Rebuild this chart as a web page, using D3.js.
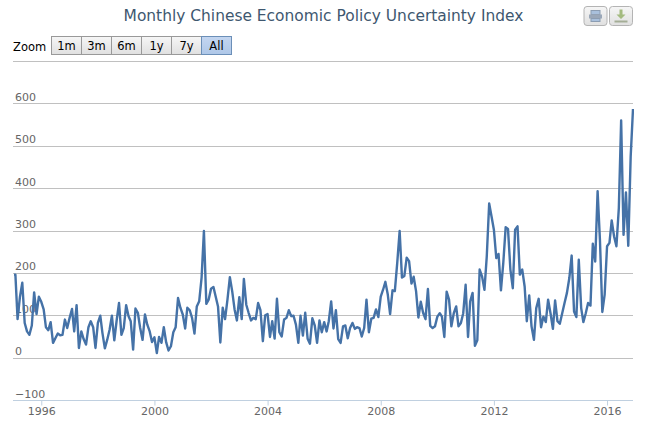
<!DOCTYPE html>
<html lang="en">
<head>
  <meta charset="UTF-8">
  <title>Monthly Chinese Economic Policy Uncertainty Index</title>
  <script src="https://d3js.org/d3.v7.min.js"></script>
  <style>
    body { margin: 0; background: #fff; font-family: "DejaVu Sans", Verdana, sans-serif; }
    text { font-family: "DejaVu Sans", Verdana, sans-serif; }
    .grid line { stroke: #c0c0c0; stroke-width: 1; shape-rendering: crispEdges; }
    .tick-label { font-size: 11px; fill: #666; }
  </style>
</head>
<body>
<div id="chart"></div>

<script>
  // One value per month from Jan 1995
  const firstMonth = new Date(1995, 0, 1);
  const uncertainty = [
    197, 197, 92, 145, 178, 83, 63, 55, 77, 155, 104, 145, 133, 115, 73, 66, 85, 36, 47, 58,
    54, 55, 91, 71, 95, 116, 63, 125, 24, 63, 45, 32, 73, 87, 73, 24, 83, 100, 59, 23,
    43, 67, 100, 42, 90, 130, 55, 71, 125, 99, 87, 20, 117, 107, 71, 43, 103, 79, 63, 38,
    49, 12, 50, 36, 73, 37, 18, 28, 61, 73, 142, 119, 103, 70, 119, 113, 95, 58, 122, 134,
    190, 300, 128, 138, 164, 168, 146, 122, 37, 119, 92, 138, 191, 158, 115, 89, 144, 92, 187, 126,
    107, 89, 95, 92, 130, 113, 40, 101, 104, 50, 87, 46, 140, 61, 51, 91, 95, 113, 99, 100,
    79, 36, 100, 53, 107, 46, 34, 94, 77, 36, 89, 61, 85, 63, 87, 134, 70, 113, 45, 36,
    75, 77, 47, 71, 83, 69, 73, 71, 51, 71, 138, 61, 93, 95, 115, 97, 145, 162, 180, 150,
    104, 160, 158, 225, 300, 190, 194, 237, 229, 176, 192, 158, 96, 133, 107, 92, 163, 76, 71, 75,
    98, 106, 98, 50, 157, 138, 75, 106, 122, 75, 83, 106, 173, 50, 134, 154, 29, 42, 209, 193,
    161, 240, 365, 335, 303, 236, 246, 160, 224, 309, 305, 209, 165, 303, 311, 197, 209, 169, 87, 148,
    75, 43, 118, 140, 73, 98, 85, 138, 106, 69, 136, 87, 81, 106, 130, 154, 189, 242, 110, 97,
    232, 118, 85, 106, 130, 124, 270, 228, 394, 280, 109, 150, 264, 272, 325, 287, 264, 354, 561, 291,
    391, 265, 476, 588
  ];
  const yTicks = [0, 100, 200, 300, 400, 500, 600, 700];
  const yLabels = [-100, 0, 100, 200, 300, 400, 500, 600];
  const xYears = [1996, 2000, 2004, 2008, 2012, 2016];
  const zoomButtons = ["1m", "3m", "6m", "1y", "7y", "All"];
  const titleText = "Monthly Chinese Economic Policy Uncertainty Index";

  const width = 648;
  const height = 423;

  const svg = d3.select("#chart")
          .append("svg")
          .attr("width", width)
          .attr("height", height)
          .style("display", "block");

  const months = uncertainty.map((v, i) => d3.timeMonth.offset(firstMonth, i));

  const x = d3.scaleTime()
          .domain([firstMonth, months[months.length - 1]])
          .range([13, 633]);
  const y = d3.scaleLinear().domain([-100, 700]).range([400.5, 61.5]);

  // Grid lines
  svg.append("g").attr("class", "grid")
          .selectAll("line")
          .data(yTicks)
          .enter()
          .append("line")
          .attr("x1", 13).attr("x2", 633)
          .attr("y1", d => Math.floor(y(d)) + 0.5)
          .attr("y2", d => Math.floor(y(d)) + 0.5);

  // Y labels sit on top of the grid lines, inside the plot
  svg.append("g").selectAll("text")
          .data(yLabels)
          .enter()
          .append("text")
          .attr("class", "tick-label")
          .attr("x", 15)
          .attr("y", d => y(d) - 3)
          .text(d => d === -100 ? "\u2212100" : d);

  // Bottom axis
  const xAxis = d3.axisBottom(x)
          .tickValues(xYears.map(d => new Date(d, 0, 1)))
          .tickFormat(d3.timeFormat("%Y"))
          .tickSize(5)
          .tickPadding(2);
  const axisG = svg.append("g")
          .attr("transform", "translate(0,400.5)")
          .call(xAxis);
  axisG.select(".domain").attr("d", "M13,0H633").attr("stroke", "#c0d0e0");
  axisG.selectAll(".tick line").attr("stroke", "#c0d0e0");
  axisG.selectAll(".tick text").attr("fill", "#666").style("font-size", "11px");

  // Series, clipped to the plot like the original
  svg.append("clipPath").attr("id", "plot")
          .append("rect").attr("x", 14).attr("y", 40).attr("width", 620).attr("height", 360);
  const line = d3.line().x((d, i) => x(months[i])).y(d => y(d));
  svg.append("path")
          .datum(uncertainty)
          .attr("d", line)
          .attr("clip-path", "url(#plot)")
          .attr("fill", "none")
          .attr("stroke", "#4572a7")
          .attr("stroke-width", 2.4)
          .attr("stroke-linejoin", "round");

  // Title
  svg.append("text")
          .attr("x", 323.5)
          .attr("y", 21)
          .attr("text-anchor", "middle")
          .attr("fill", "#3e576f")
          .style("font-size", "15.45px")
          .text(titleText);

  // Range selector
  svg.append("text")
          .attr("x", 13).attr("y", 51)
          .attr("fill", "#000")
          .style("font-size", "11.5px")
          .text("Zoom");

  const defs = svg.append("defs");
  const btnGrad = defs.append("linearGradient").attr("id", "btnGrad").attr("x2", 0).attr("y2", 1);
  btnGrad.append("stop").attr("offset", "0").attr("stop-color", "#f6f6f6");
  btnGrad.append("stop").attr("offset", "1").attr("stop-color", "#e0e0e0");
  const selGrad = defs.append("linearGradient").attr("id", "selGrad").attr("x2", 0).attr("y2", 1);
  selGrad.append("stop").attr("offset", "0").attr("stop-color", "#c4d6f0");
  selGrad.append("stop").attr("offset", "1").attr("stop-color", "#aec7e8");

  const btn = svg.append("g").selectAll("g")
          .data(zoomButtons)
          .enter()
          .append("g")
          .attr("transform", (d, i) => `translate(${51.5 + i * 30},36.5)`);
  btn.append("rect")
          .attr("width", 30).attr("height", 18)
          .attr("fill", d => d === "All" ? "url(#selGrad)" : "url(#btnGrad)")
          .attr("stroke", d => d === "All" ? "#6b8fb8" : "#999");
  btn.append("text")
          .attr("x", 15).attr("y", 13.5)
          .attr("text-anchor", "middle")
          .attr("fill", "#000")
          .style("font-size", "11.5px")
          .text(d => d);

  // Print and export buttons
  const tool = svg.append("g").selectAll("g")
          .data([0, 1])
          .enter()
          .append("g")
          .attr("transform", d => `translate(${584 + d * 25.5},6.5)`);
  tool.append("rect")
          .attr("width", 23).attr("height", 19).attr("rx", 3)
          .attr("fill", "url(#btnGrad)")
          .attr("stroke", "#b4b4b4");
  const printer = svg.append("g").attr("transform", "translate(584,6.5)");
  printer.append("rect").attr("x", 7).attr("y", 4).attr("width", 9).attr("height", 4).attr("fill", "#a9c0dc").attr("stroke", "#8c9db2");
  printer.append("rect").attr("x", 5).attr("y", 8).attr("width", 13).attr("height", 4).attr("fill", "#9aa7b8");
  printer.append("rect").attr("x", 7).attr("y", 12).attr("width", 9).attr("height", 3).attr("fill", "#a9c0dc").attr("stroke", "#8c9db2");
  const exportIcon = svg.append("g").attr("transform", "translate(609.5,6.5)");
  exportIcon.append("path").attr("d", "M10,3H13V8H16L11.5,12.5L7,8H10Z").attr("fill", "#a4bb80");
  exportIcon.append("rect").attr("x", 5).attr("y", 14).attr("width", 13).attr("height", 2).attr("fill", "#a4ad96");
</script>

</body>
</html>
